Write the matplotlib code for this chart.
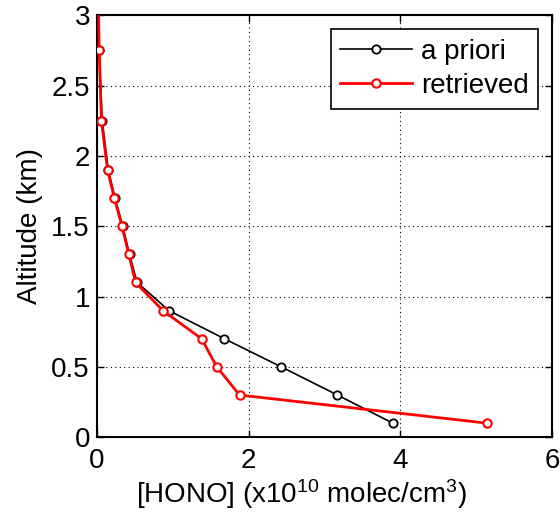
import numpy as np
import matplotlib
matplotlib.use('Agg')
import matplotlib.pyplot as plt

plt.rcParams['font.family'] = 'Liberation Sans'
plt.rcParams['mathtext.fontset'] = 'custom'
plt.rcParams['mathtext.rm'] = 'Liberation Sans'
plt.rcParams['mathtext.default'] = 'regular'

# altitude grid (km)
alt = [0.1, 0.3, 0.5, 0.7, 0.9, 1.1, 1.3, 1.5, 1.7, 1.9, 2.25, 2.75, 3.5]

# HONO profiles (x1e10 molec/cm3)
apriori = [3.90, 3.17, 2.43, 1.68, 0.95, 0.53, 0.43, 0.34, 0.24, 0.15, 0.07, 0.03, 0.01]
retrieved = [5.14, 1.88, 1.58, 1.38, 0.87, 0.51, 0.42, 0.33, 0.23, 0.14, 0.06, 0.03, 0.01]

xticks = [0, 2, 4, 6]
yticks = [0, 0.5, 1, 1.5, 2, 2.5, 3]

fig = plt.figure(figsize=(5.6, 5.23), dpi=100)
ax = fig.add_axes([0.173, 0.164, 0.813, 0.807])

ax.plot(apriori, alt, '-o', color='black', lw=1.2, ms=6, mew=1.3,
        mfc='white', label='a priori', zorder=3)
ax.plot(retrieved, alt, '-o', color='red', lw=2, ms=6, mew=1.5,
        mfc='white', label='retrieved', zorder=4)

ax.set_xlim(0, 6)
ax.set_ylim(0, 3)
ax.set_xticks(xticks)
ax.set_yticks(yticks)
ax.set_yticklabels(['0', '0.5', '1', '1.5', '2', '2.5', '3'])
ax.grid(True, color='black', linestyle=(0, (1, 3)), linewidth=0.8)
ax.tick_params(direction='in', top=True, right=True, labelsize=20,
               length=5, width=1, pad=5)
ax.tick_params(axis='x', pad=8)
for s in ax.spines.values():
    s.set_linewidth(1.5)

ax.set_xlabel('[HONO] (x10$^{10}$ molec/cm$^3$)', fontsize=20)
ax.xaxis.set_label_coords(0.45, -0.095)
ax.set_ylabel('Altitude (km)', fontsize=20, labelpad=6)

leg = ax.legend(loc='upper right', fontsize=20, fancybox=False,
                framealpha=1, edgecolor='black', handlelength=2.6,
                borderaxespad=0.5, handletextpad=0.3, borderpad=0.35,
                labelspacing=0.3)
leg.get_frame().set_linewidth(1.2)

fig.savefig('out.png', dpi=100)
